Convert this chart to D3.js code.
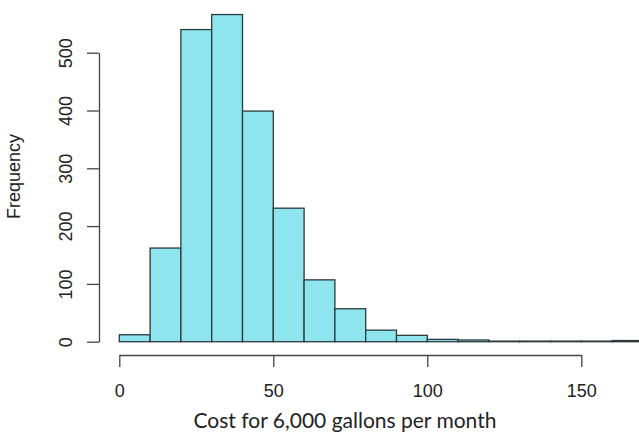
<!DOCTYPE html>
<html>
<head>
<meta charset="utf-8">
<script src="https://d3js.org/d3.v7.min.js"></script>
<style>
  body { margin: 0; background: #fff; }
  svg { display: block; }
</style>
</head>
<body>
<div class="graph"></div>
<script>
// histogram bins (width 10) and their counts
let binStarts = [0, 10, 20, 30, 40, 50, 60, 70, 80, 90, 100, 110, 120, 130, 140, 150, 160];
let counts = [12, 162, 540, 566, 399, 231, 107, 57, 20, 11, 4, 3, 1, 1, 1, 1, 2];
let binWidth = 10;
let xTicks = [0, 50, 100, 150];
let yTicks = [0, 100, 200, 300, 400, 500];
let xTitle = "Cost for 6,000 gallons per month";
let yTitle = "Frequency";

let width = 639, height = 433;

let svg = d3.select(".graph").append("svg")
    .attr("width", width)
    .attr("height", height);

let x = d3.scaleLinear()
    .domain([0, 150])
    .range([119.3, 581.3]);

let y = d3.scaleLinear()
    .domain([0, 500])
    .range([341.7, 52.7]);

let bins = binStarts.map((b, i) => ({x0: b, x1: b + binWidth, n: counts[i]}));

// bars
svg.selectAll(".bar")
    .data(bins)
    .enter().append("rect")
    .attr("class", "bar")
    .attr("x", d => x(d.x0))
    .attr("y", d => y(d.n))
    .attr("width", d => x(d.x1) - x(d.x0))
    .attr("height", d => y(0) - y(d.n))
    .attr("fill", "#8EE5EE")
    .attr("stroke", "#2a3a3c")
    .style("stroke-width", "1.3px");

// X axis
let xAxis = svg.append("g")
    .attr("transform", "translate(0,355)")
    .call(d3.axisBottom(x)
        .tickValues(xTicks)
        .tickFormat(d3.format("d"))
        .tickSize(12)
        .tickSizeOuter(0));
xAxis.select(".domain").attr("stroke", "#444").style("stroke-width", "1.3px");
xAxis.selectAll(".tick line").attr("stroke", "#444").style("stroke-width", "1.3px");
xAxis.selectAll(".tick text")
    .attr("y", 42)
    .attr("dy", 0)
    .attr("fill", "#222")
    .style("font-family", "'Liberation Sans', Arial, sans-serif")
    .style("font-size", "18px");

// Y axis
let yAxis = svg.append("g")
    .attr("transform", "translate(99,0)")
    .call(d3.axisLeft(y)
        .tickValues(yTicks)
        .tickSize(12)
        .tickSizeOuter(0));
yAxis.select(".domain").attr("stroke", "#444").style("stroke-width", "1.3px");
yAxis.selectAll(".tick line").attr("stroke", "#444").style("stroke-width", "1.3px");
yAxis.selectAll(".tick text")
    .attr("transform", "rotate(-90)")
    .attr("x", 0)
    .attr("y", -27)
    .attr("dy", 0)
    .attr("text-anchor", "middle")
    .attr("fill", "#222")
    .style("font-family", "'Liberation Sans', Arial, sans-serif")
    .style("font-size", "18px");

// axis titles
svg.append("text")
    .attr("x", 345)
    .attr("y", 428)
    .attr("text-anchor", "middle")
    .attr("fill", "#222")
    .style("font-family", "Lato, 'Open Sans', sans-serif")
    .style("font-size", "21px")
    .text(xTitle);

svg.append("text")
    .attr("transform", "translate(20,176.5) rotate(-90)")
    .attr("text-anchor", "middle")
    .attr("fill", "#222")
    .style("font-family", "'Liberation Sans', Arial, sans-serif")
    .style("font-size", "18px")
    .text(yTitle);
</script>
</body>
</html>
